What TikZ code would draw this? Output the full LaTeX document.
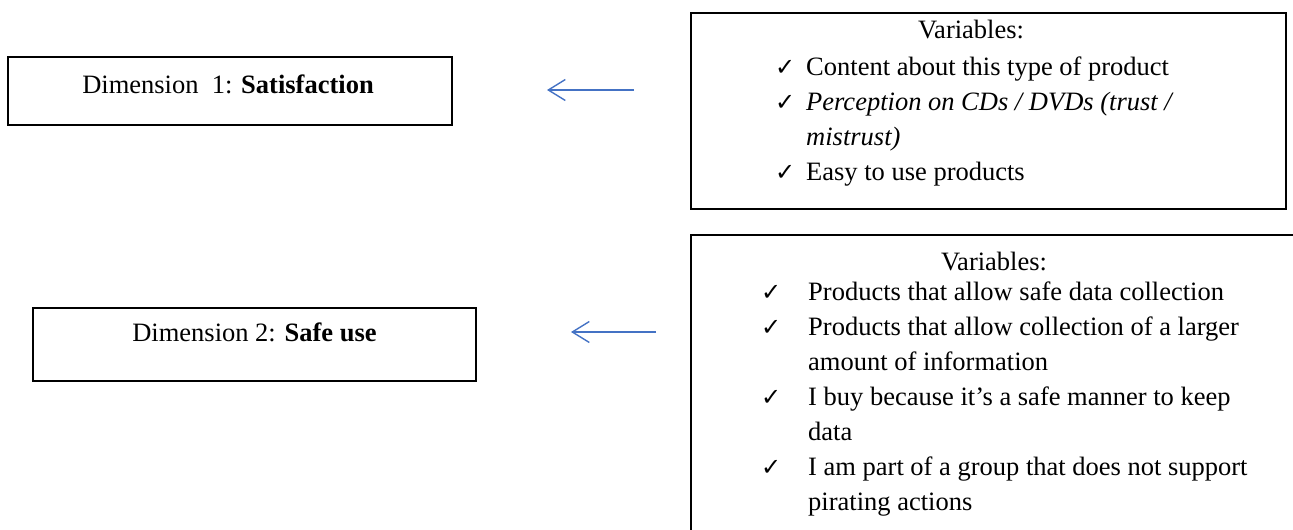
\documentclass[tikz,border=0pt]{standalone}
\usepackage{fontspec}
\setmainfont{Liberation Serif}
\newfontfamily\dvfont{DejaVu Sans}
\usetikzlibrary{arrows.meta}
\newcommand{\ck}{{\dvfont\fontsize{24}{24}\selectfont ✓}}
\tikzset{
  box/.style={draw=black, line width=1.2pt, rectangle, inner sep=0pt},
  txt/.style={inner sep=0pt, font=\fontsize{26.5}{35}\selectfont},
  arr/.style={draw={rgb,255:red,68;green,114;blue,196}, line width=1.4pt,
    -{Straight Barb[length=17pt,width=21pt,line width=1.4pt]}}
}
\begin{document}
\begin{tikzpicture}[x=1pt,y=1pt]
\useasboundingbox (0,0) rectangle (1293,-530);
% left boxes
\node[box, minimum width=444pt, minimum height=68pt] (d1) at (230,-91) {};
\node[txt, anchor=base] (d1t) at (228,-93) {Dimension\ \ 1: \textbf{Satisfaction}};
\node[box, minimum width=443pt, minimum height=73pt] (d2) at (254.5,-344.5) {};
\node[txt, anchor=base] (d2t) at (254.5,-341) {Dimension 2: \textbf{Safe use}};
% variable boxes
\node[box, minimum width=595pt, minimum height=196pt] (v1) at (988.5,-111) {};
\node[txt, anchor=base] (v1h) at (971,-38) {Variables:};
\node[txt, anchor=base west] (v1l) at (775,-75) {\fontsize{26.5}{35}\selectfont
  \begin{tabular}[t]{@{}p{31pt}@{}l@{}}
  \ck & Content about this type of product\\
  \ck & \textit{Perception on CDs / DVDs (trust /}\\
      & \textit{mistrust)}\\
  \ck & Easy to use products
  \end{tabular}};
\node[box, minimum width=619pt, minimum height=310pt] (v2) at (1000.5,-390) {};
\node[txt, anchor=base] (v2h) at (994,-270) {Variables:};
\node[txt, anchor=base west] (v2l) at (761,-300) {\fontsize{26.5}{35}\selectfont
  \begin{tabular}[t]{@{}p{47pt}@{}l@{}}
  \ck & Products that allow safe data collection\\
  \ck & Products that allow collection of a larger\\
      & amount of information\\
  \ck & I buy because it’s a safe manner to keep\\
      & data\\
  \ck & I am part of a group that does not support\\
      & pirating actions
  \end{tabular}};
% arrows
\coordinate (a1s) at (634,-90);
\coordinate (a1e) at (547,-90);
\coordinate (a2s) at (656,-332);
\coordinate (a2e) at (571,-332);
\draw[arr] (a1s) -- (a1e);
\draw[arr] (a2s) -- (a2e);
\end{tikzpicture}
\end{document}
